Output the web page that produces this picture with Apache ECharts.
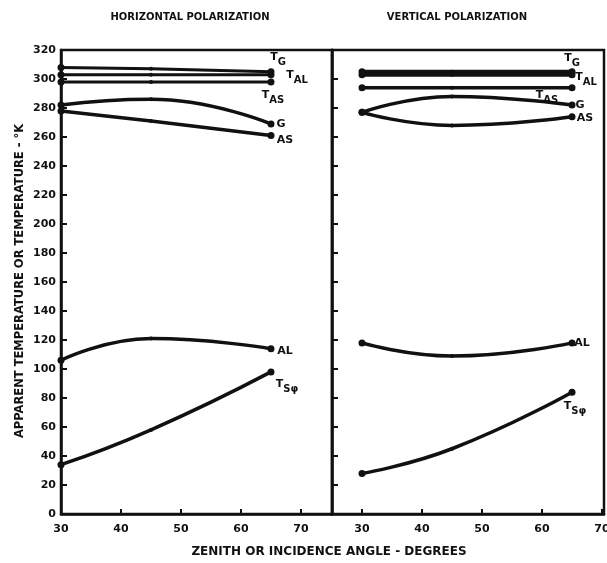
<!DOCTYPE html>
<html>
<head>
<meta charset="utf-8">
<script src="https://cdn.jsdelivr.net/npm/echarts@6/dist/echarts.min.js"></script>
<style>
  html, body { margin: 0; padding: 0; background: #fff; }
  #chart { width: 607px; height: 563px; }
</style>
</head>
<body>
<div id="chart"></div>
<script>
// Zenith / incidence angles at which temperatures were computed (degrees)
const angles = [30, 45, 65];
const xTickValues = [30, 40, 50, 60, 70];

// Horizontal polarization, apparent temperature or temperature (°K)
const hTG  = [308, 307, 305];
const hTAL = [303, 303, 303];
const hTAS = [298, 298, 298];
const hG   = [282, 286, 269];
const hAS  = [278, 271, 261];
const hAL  = [106, 121, 114];
const hTS  = [34, 58, 98];

// Vertical polarization, apparent temperature or temperature (°K)
const vTG  = [305, 305, 305];
const vTAL = [303, 303, 303];
const vTAS = [294, 294, 294];
const vG   = [277, 288, 282];
const vAS  = [277, 268, 274];
const vAL  = [118, 109, 118];
const vTS  = [28, 45, 84];

const INK = '#111';
const FONT = '"DejaVu Sans", "Liberation Sans", sans-serif';

const rich = {
  t: { fontSize: 11, fontWeight: 'bold', fontFamily: FONT, color: INK, verticalAlign: 'top' },
  s: { fontSize: 10, fontWeight: 'bold', fontFamily: FONT, color: INK, verticalAlign: 'bottom', padding: [6, 0, 0, 0] }
};

// One curve: end point carries the curve's name tag
function curve(gridIdx, values, tag, dx, dy, width) {
  return {
    type: 'line',
    xAxisIndex: gridIdx,
    yAxisIndex: gridIdx,
    smooth: 0.5,
    symbol: 'circle',
    symbolSize: (v, p) => (p.dataIndex === 1 ? 4 : 7),
    lineStyle: { color: INK, width: width || 3.5 },
    itemStyle: { color: INK },
    emphasis: { disabled: true },
    label: { show: false },
    data: values.map((v, i) => {
      const pt = { value: [angles[i], v] };
      if (i === values.length - 1) {
        pt.label = {
          show: true, position: 'inside', offset: [dx, dy],
          color: INK, formatter: tag, rich: rich
        };
      }
      return pt;
    })
  };
}

function xAxisFor(gridIdx, min, max) {
  return {
    gridIndex: gridIdx, type: 'value', min: min, max: max,
    axisLine: { show: true, onZero: false, lineStyle: { color: INK, width: 2.5 } },
    axisTick: { show: true, inside: true, length: 5, customValues: xTickValues, lineStyle: { color: INK, width: 2 } },
    axisLabel: { customValues: xTickValues, margin: 10, fontSize: 11, fontWeight: 'bold', color: INK, fontFamily: FONT },
    splitLine: { show: false }
  };
}

function yAxisFor(gridIdx, showLabels) {
  return {
    gridIndex: gridIdx, type: 'value', min: 0, max: 320, interval: 20,
    axisLine: { show: true, lineStyle: { color: INK, width: 2.5 } },
    axisTick: { show: true, inside: true, length: 6, lineStyle: { color: INK, width: 2 } },
    axisLabel: { show: showLabels, margin: 5, fontSize: 11, fontWeight: 'bold', color: INK, fontFamily: FONT },
    splitLine: { show: false }
  };
}

const titleStyle = { fill: INK, fontSize: 10, fontWeight: 'bold', fontFamily: FONT, align: 'center', verticalAlign: 'middle' };

const chart = echarts.init(document.getElementById('chart'), null, { renderer: 'canvas' });
chart.setOption({
  animation: false,
  backgroundColor: '#fff',
  grid: [
    { left: 61, top: 50, width: 271, height: 464, show: true, borderColor: INK, borderWidth: 2.5,
      containLabel: false, outerBoundsMode: 'none' },
    { left: 332, top: 50, width: 272, height: 464, show: true, borderColor: INK, borderWidth: 2.5,
      containLabel: false, outerBoundsMode: 'none' }
  ],
  xAxis: [xAxisFor(0, 30, 75.17), xAxisFor(1, 25, 70.33)],
  yAxis: [yAxisFor(0, true), yAxisFor(1, false)],
  series: [
    curve(0, hTG,  '{t|T}{s|G}',  7, -12, 3),
    curve(0, hTAL, '{t|T}{s|AL}', 26, 3, 3),
    curve(0, hTAS, '{t|T}{s|AS}', 2, 16, 3),
    curve(0, hG,   '{t|G}',       10, 0),
    curve(0, hAS,  '{t|AS}',      14, 5),
    curve(0, hAL,  '{t|AL}',      14, 2),
    curve(0, hTS,  '{t|T}{s|Sφ}', 16, 15),
    curve(1, vTG,  '{t|T}{s|G}',  0, -11, 4),
    curve(1, vTAL, '{t|T}{s|AL}', 14, 5, 4),
    curve(1, vTAS, '{t|T}{s|AS}', -25, 10, 3.5),
    curve(1, vG,   '{t|G}',       8, 0),
    curve(1, vAS,  '{t|AS}',      13, 1),
    curve(1, vAL,  '{t|AL}',      10, 0),
    curve(1, vTS,  '{t|T}{s|Sφ}', 3, 16)
  ],
  graphic: [
    { type: 'text', x: 190, y: 17, style: Object.assign({ text: 'HORIZONTAL POLARIZATION' }, titleStyle) },
    { type: 'text', x: 457, y: 17, style: Object.assign({ text: 'VERTICAL POLARIZATION' }, titleStyle) },
    { type: 'text', x: 329, y: 552,
      style: Object.assign({ text: 'ZENITH OR INCIDENCE ANGLE - DEGREES' }, titleStyle, { fontSize: 12 }) },
    { type: 'text', x: 20, y: 281, rotation: Math.PI / 2,
      style: Object.assign({ text: 'APPARENT TEMPERATURE OR TEMPERATURE - °K' }, titleStyle, { fontSize: 11.5 }) }
  ]
});
</script>
</body>
</html>
